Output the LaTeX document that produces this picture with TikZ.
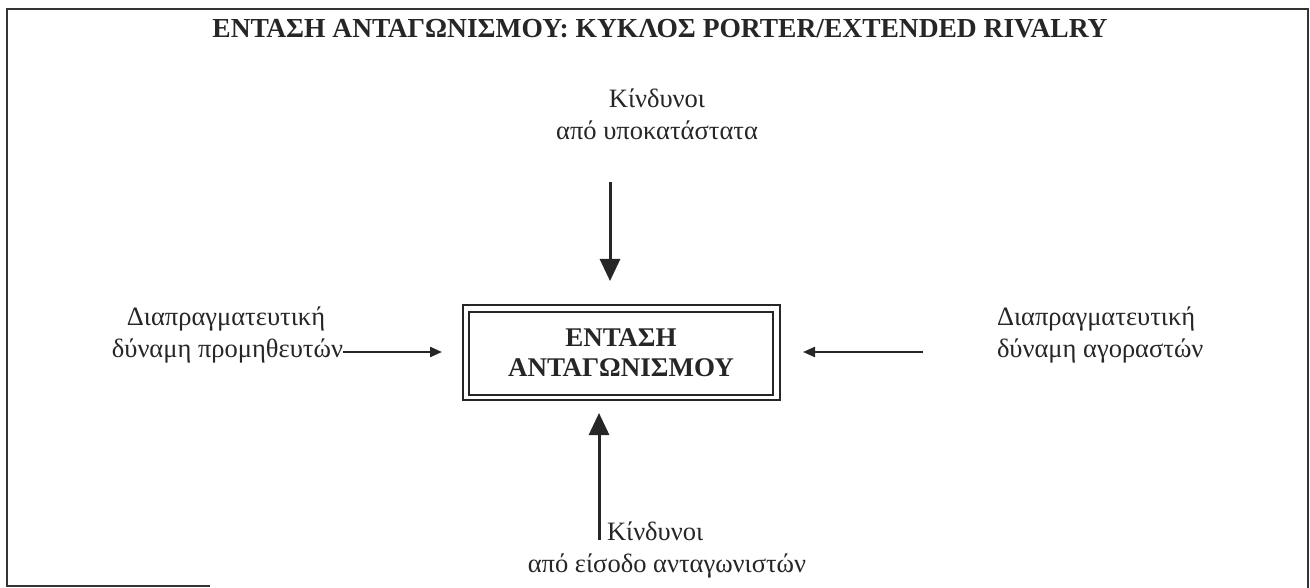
\documentclass[tikz,border=0pt]{standalone}
\usepackage{fontspec}
\setmainfont{Liberation Serif}
\usetikzlibrary{arrows.meta}
\begin{document}
\begin{tikzpicture}[x=1pt,y=-1pt,
  every node/.style={inner sep=0pt,outer sep=0pt},
  body/.style={font=\fontsize{26.5}{32}\selectfont,text=black!85},
  boldtxt/.style={font=\bfseries\fontsize{27}{30}\selectfont,align=center,text=black!85},
  titletxt/.style={font=\bfseries\fontsize{27.5}{30}\selectfont,text=black!85},
  bigarrow/.style={draw=black!85,line width=3pt,-{Triangle[width=20pt,length=22pt]}},
  smallarrow/.style={draw=black!85,line width=2.2pt,-{Triangle[width=10pt,length=12pt]}},
  frame/.style={draw=black!80,line width=2pt}]
\useasboundingbox (0,0) rectangle (1310,588);
% frame (bottom edge only partly visible)
\coordinate (fbl) at (7,586);
\coordinate (ftl) at (7,9);
\coordinate (ftr) at (1308,9);
\coordinate (fbr) at (1308,588);
\coordinate (fbm) at (210,586);
\draw[frame] (fbm) -- (fbl) -- (ftl) -- (ftr) -- (fbr);
\node[titletxt,anchor=base] (title) at (660,38) {ΕΝΤΑΣΗ ΑΝΤΑΓΩΝΙΣΜΟΥ: ΚΥΚΛΟΣ PORTER/EXTENDED RIVALRY};
% central box
\node[draw=black!85,line width=2.6pt,minimum width=317pt,minimum height=95pt] (boxo) at (621.5,352.5) {};
\node[draw=black!85,line width=1.5pt,minimum width=304pt,minimum height=83pt] (boxi) at (621,353.5) {};
\node[boldtxt,anchor=base] (c1) at (621,346) {ΕΝΤΑΣΗ};
\node[boldtxt,anchor=base] (c2) at (621,376) {ΑΝΤΑΓΩΝΙΣΜΟΥ};
% top
\node[body,anchor=base] (top1) at (657,108) {Κίνδυνοι};
\node[body,anchor=base] (top2) at (657,140) {από υποκατάστατα};
\coordinate (topstart) at (610,182);
\coordinate (topend) at (610,281);
\draw[bigarrow] (topstart) -- (topend);
% bottom
\node[body,anchor=base west] (bot1) at (607,540) {Κίνδυνοι};
\node[body,anchor=base] (bot2) at (667,572) {από είσοδο ανταγωνιστών};
\coordinate (botstart) at (599,540);
\coordinate (botend) at (599,413);
\draw[bigarrow] (botstart) -- (botend);
% left
\node[body,anchor=base] (left1) at (226,326) {Διαπραγματευτική};
\node[body,anchor=base east] (left2) at (343,357) {δύναμη προμηθευτών};
\coordinate (lend) at (442,352);
\draw[smallarrow] (left2.base east |- lend) -- (lend);
% right
\node[body,anchor=base west] (right1) at (997,326) {Διαπραγματευτική};
\node[body,anchor=base west] (right2) at (997,357) {δύναμη αγοραστών};
\coordinate (rstart) at (923,352);
\coordinate (rend) at (803,352);
\draw[smallarrow] (rstart) -- (rend);
\end{tikzpicture}
\end{document}
